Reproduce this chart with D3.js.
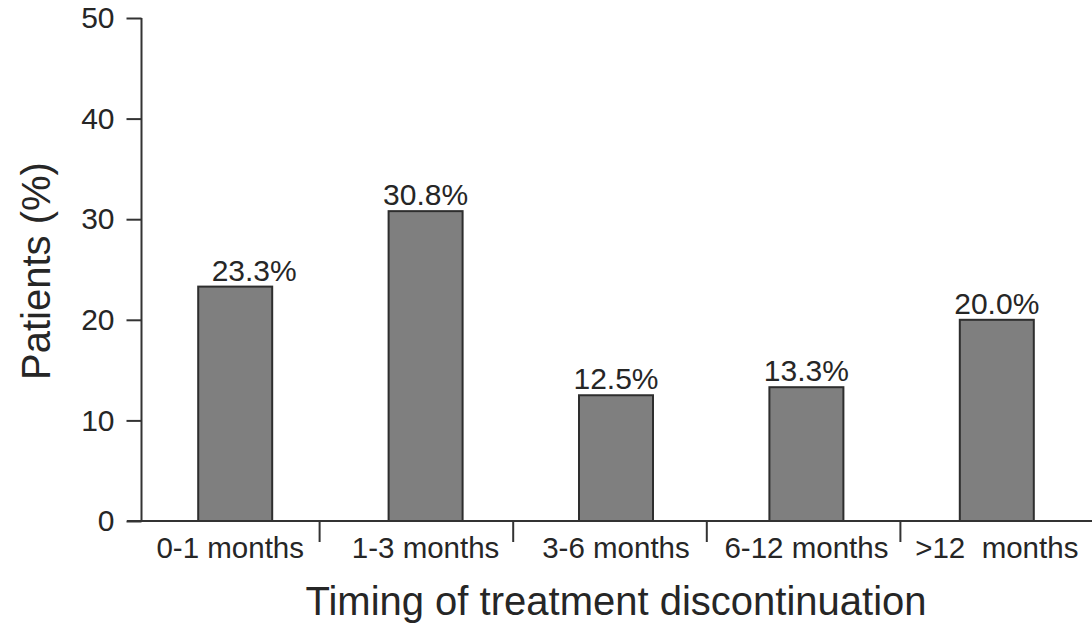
<!DOCTYPE html>
<html>
<head>
<meta charset="utf-8">
<script src="https://cdn.jsdelivr.net/npm/d3@7"></script>
<style>
  html, body { margin: 0; padding: 0; background: #fff; }
  svg { display: block; }
  text { font-family: "Liberation Sans", Arial, sans-serif; fill: #262626; }
</style>
</head>
<body>
<svg id="chart" width="1092" height="626"></svg>
<script>
const categories = ["0-1 months", "1-3 months", "3-6 months", "6-12 months", ">12  months"];
const values = [23.3, 30.8, 12.5, 13.3, 20.0];
const valueLabels = ["23.3%", "30.8%", "12.5%", "13.3%", "20.0%"];
const yTicks = [0, 10, 20, 30, 40, 50];
const yTitle = "Patients (%)";
const xTitle = "Timing of treatment discontinuation";

const svg = d3.select("#chart");
const axisColor = "#333";

const y = d3.scaleLinear().domain([0, 50]).range([521, 18]);
const xBar = d3.scaleBand().domain(categories).range([140, 1092]);
const xSep = d3.scaleBand().domain(categories).range([126, 1094]);
const barW = 74;
const axisX = 141.5;

// Y axis
const yAxis = svg.append("g").attr("transform", `translate(${axisX},0)`)
  .call(d3.axisLeft(y).tickValues(yTicks).tickSize(15).tickPadding(12).tickSizeOuter(0));
yAxis.select(".domain").attr("stroke", axisColor).attr("stroke-width", 2)
  .attr("d", `M0,${y(50)}V${y(0)}`);
yAxis.selectAll(".tick line").attr("stroke", axisColor).attr("stroke-width", 2);
yAxis.selectAll(".tick text").style("font-size", "30px")
  .style("font-family", '"Liberation Sans", Arial, sans-serif').attr("fill", "#262626");

// Bars
svg.append("g").selectAll("rect").data(values).join("rect")
  .attr("x", (d, i) => xBar(categories[i]) + xBar.bandwidth() / 2 - barW / 2)
  .attr("y", d => y(d))
  .attr("width", barW)
  .attr("height", d => y(0) - y(d))
  .attr("fill", "#7f7f7f")
  .attr("stroke", "#2e2e2e")
  .attr("stroke-width", 2);

// X axis line
svg.append("line")
  .attr("x1", 127).attr("x2", 1092)
  .attr("y1", y(0)).attr("y2", y(0))
  .attr("stroke", axisColor).attr("stroke-width", 2);

// Separator ticks
svg.append("g").selectAll("line").data(categories).join("line")
  .attr("x1", d => xSep(d) + xSep.bandwidth())
  .attr("x2", d => xSep(d) + xSep.bandwidth())
  .attr("y1", y(0)).attr("y2", y(0) + 21)
  .attr("stroke", axisColor).attr("stroke-width", 2);

// Category labels
svg.append("g").selectAll("text").data(categories).join("text")
  .attr("x", (d, i) => xBar(d) + xBar.bandwidth() / 2 - (i === 0 ? 5 : 0))
  .attr("y", 558)
  .attr("text-anchor", "middle")
  .attr("xml:space", "preserve")
  .style("white-space", "pre")
  .style("font-size", "29.5px")
  .text(d => d);

// Value labels
svg.append("g").selectAll("text").data(values).join("text")
  .attr("x", (d, i) => xBar(categories[i]) + xBar.bandwidth() / 2 + (i === 0 ? 19 : 0))
  .attr("y", d => y(d) - 6)
  .attr("text-anchor", "middle")
  .style("font-size", "30px")
  .text((d, i) => valueLabels[i]);

// Axis titles
svg.append("text")
  .attr("transform", "translate(50,271) rotate(-90)")
  .attr("text-anchor", "middle")
  .style("font-size", "40px")
  .text(yTitle);

svg.append("text")
  .attr("x", 616).attr("y", 615)
  .attr("text-anchor", "middle")
  .style("font-size", "40px")
  .text(xTitle);
</script>
</body>
</html>
